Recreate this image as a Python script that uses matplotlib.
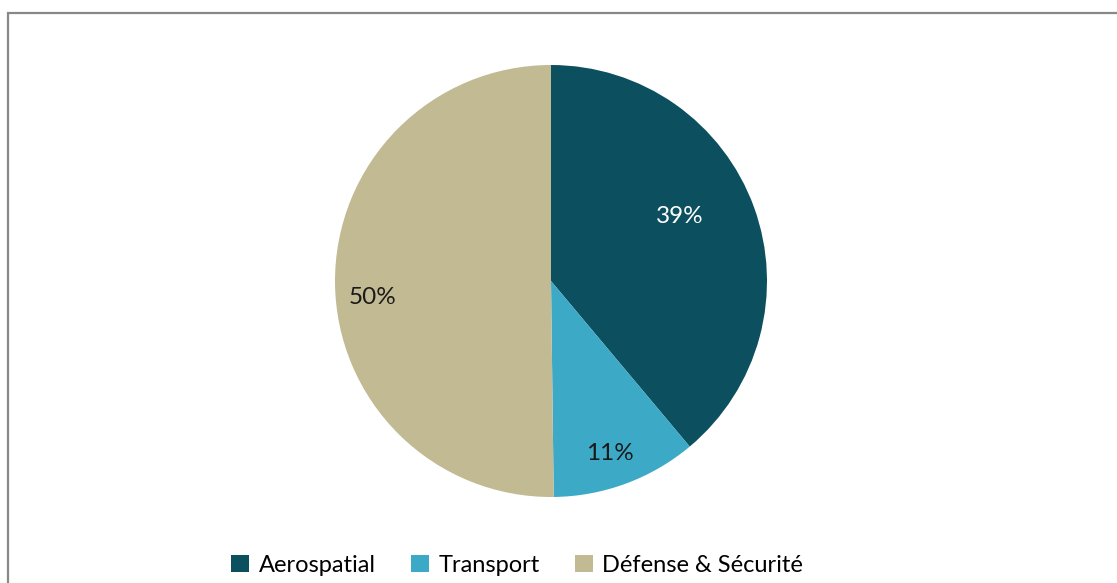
import matplotlib.pyplot as plt
from matplotlib.patches import Rectangle
import numpy as np

labels = ['Aerospatial', 'Transport', 'Défense & Sécurité']
values = [38.9, 10.9, 50.2]
pct_labels = ['39%', '11%', '50%']
colors = ['#0c4f5f', '#3caac6', '#c2ba93']
label_colors = ['white', '#1a1a1a', '#1a1a1a']
label_radius = [0.667, 0.842, 0.828]
label_shift = [6.4, -1.4, 5.0]   # degrees, best-fit placement like Excel

plt.rcParams['font.family'] = ['Lato', 'DejaVu Sans']

fig = plt.figure(figsize=(11.17, 5.83), dpi=100)
fig.patch.set_facecolor('white')

# outer chart frame (only top and left visible)
fig.patches.append(Rectangle((8 / 1117, -0.2), 1.5, (583 - 13) / 583 + 0.2,
                             transform=fig.transFigure, fill=False,
                             edgecolor='#888888', linewidth=1.6))

ax = fig.add_axes([335 / 1117, 86 / 583, 432 / 1117, 432 / 583])
wedges, _ = ax.pie(values, colors=colors, startangle=90, counterclock=False,
                   radius=1, wedgeprops=dict(linewidth=0))
ax.set_xlim(-1, 1)
ax.set_ylim(-1, 1)
ax.set_aspect('equal')

for w, txt, c, r, s in zip(wedges, pct_labels, label_colors, label_radius, label_shift):
    ang = np.deg2rad((w.theta1 + w.theta2) / 2 + s)
    ax.text(r * np.cos(ang), r * np.sin(ang), txt, ha='center', va='center',
            fontsize=17.5, color=c)

fig.legend(wedges, labels, loc='center', bbox_to_anchor=(0.463, 1 - 565 / 583),
           ncol=3, frameon=False, fontsize=17, handlelength=0.75, handleheight=0.75,
           handletextpad=0.4, columnspacing=1.5)

fig.savefig('out.png', dpi=100)
